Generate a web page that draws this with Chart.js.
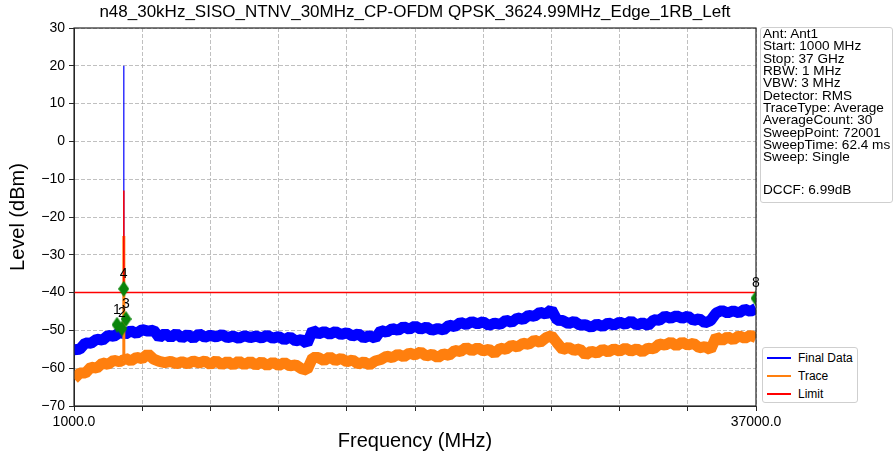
<!DOCTYPE html>
<html><head><meta charset="utf-8">
<script src="https://cdn.jsdelivr.net/npm/chart.js@4.4.1/dist/chart.umd.min.js"></script>
<style>
html,body{margin:0;padding:0;background:#fff;}
body{width:896px;height:454px;position:relative;overflow:hidden;font-family:"Liberation Sans",Arial,sans-serif;color:#000;}
#c{position:absolute;left:0;top:0;}
#title{position:absolute;left:0;top:2px;width:830px;text-align:center;font-size:17px;line-height:20px;}
#info{position:absolute;left:760px;top:27px;width:133px;height:176px;border:1px solid #cfcfcf;border-radius:3px;box-sizing:border-box;padding:0 0 0 2px;font-size:13.6px;line-height:12.34px;background:#fff;white-space:nowrap;overflow:hidden;}
#info .gap{height:20px;}
#legend{position:absolute;left:762px;top:347px;width:96px;height:56px;border:1px solid #cfcfcf;border-radius:3px;box-sizing:border-box;background:#fff;font-size:12px;}
#legend .row{position:absolute;left:0;height:14px;width:94px;}
#legend .ln{position:absolute;left:4px;top:6px;width:24px;height:2px;}
#legend .tx{position:absolute;left:35px;top:0;line-height:14px;}
</style>
</head><body>
<canvas id="c" width="896" height="454"></canvas>
<div id="title">n48_30kHz_SISO_NTNV_30MHz_CP-OFDM QPSK_3624.99MHz_Edge_1RB_Left</div>
<div id="info">
<div>Ant: Ant1</div><div>Start: 1000 MHz</div><div>Stop: 37 GHz</div><div>RBW: 1 MHz</div><div>VBW: 3 MHz</div><div>Detector: RMS</div><div>TraceType: Average</div><div>AverageCount: 30</div><div>SweepPoint: 72001</div><div>SweepTime: 62.4 ms</div><div>Sweep: Single</div><div class="gap"></div><div>DCCF: 6.99dB</div>
</div>
<div id="legend">
<div class="row" style="top:3px"><div class="ln" style="background:#0000ff"></div><div class="tx">Final Data</div></div>
<div class="row" style="top:21px"><div class="ln" style="background:#ff7f0e"></div><div class="tx">Trace</div></div>
<div class="row" style="top:39px"><div class="ln" style="background:#ff0000"></div><div class="tx">Limit</div></div>
</div>
<script>
// ---- data ----
const freqMHz = [1000,1300,1600,1900,2200,2500,2800,3100,3400,3615,3625,3635,3700,4000,4300,4600,4900,5200,5500,5800,6100,6400,6700,7000,7300,7600,7900,8200,8500,8800,9100,9400,9700,10000,10300,10600,10900,11200,11500,11800,12100,12400,12700,13000,13300,13600,13900,14200,14500,14800,15100,15400,15700,16000,16300,16600,16900,17200,17500,17800,18100,18400,18700,19000,19300,19600,19900,20200,20500,20800,21100,21400,21700,22000,22300,22600,22900,23200,23500,23800,24100,24400,24700,25000,25300,25600,25900,26200,26500,26800,27100,27400,27700,28000,28300,28600,28900,29200,29500,29800,30100,30400,30700,31000,31300,31600,31900,32200,32500,32800,33100,33400,33700,34000,34300,34600,34900,35200,35500,35800,36100,36400,36700,37000];
const finalData = [-55.1,-55.0,-53.3,-53.4,-52.3,-52.6,-51.3,-51.6,-50.6,-50.8,20.0,-50.8,
-51.0,-50.1,-50.8,-49.8,-50.2,-49.9,-51.9,-50.8,-51.9,-50.8,
-52.0,-51.1,-52.1,-50.9,-51.8,-51.3,-51.7,-51.1,-51.9,-51.5,
-52.1,-51.4,-51.9,-51.5,-52.0,-51.3,-52.1,-51.6,-52.5,-51.7,
-52.8,-52.4,-53.5,-49.9,-50.9,-50.3,-51.0,-50.3,-51.1,-50.6,
-51.5,-50.9,-52.0,-51.4,-52.1,-50.0,-50.5,-49.5,-50.0,-49.0,
-49.7,-48.8,-49.7,-49.1,-50.0,-49.5,-49.9,-48.6,-49.0,-47.9,
-48.5,-47.7,-48.3,-47.7,-48.7,-48.1,-48.4,-47.3,-47.9,-46.7,
-47.1,-46.0,-46.3,-45.2,-45.7,-44.5,-47.3,-47.4,-48.2,-47.6,
-48.6,-48.5,-49.2,-48.3,-49.0,-48.0,-48.6,-47.8,-48.4,-47.5,
-48.6,-48.0,-48.7,-47.2,-47.3,-46.2,-46.8,-46.1,-46.8,-46.2,
-47.4,-46.9,-48.0,-47.4,-45.4,-44.7,-45.4,-44.8,-45.4,-44.4,-45.0,-44.2];
const traceData = [-62.8,-61.3,-61.3,-59.7,-60.0,-58.6,-59.0,-57.9,-58.3,-57.8,-25.0,-57.8,
-57.3,-58.1,-57.1,-57.5,-56.2,-57.6,-58.2,-58.5,-58.2,-58.8,
-58.3,-58.8,-58.1,-58.6,-58.1,-59.0,-58.0,-59.1,-58.2,-59.2,
-58.1,-59.1,-58.2,-59.2,-58.3,-59.3,-58.4,-59.3,-58.5,-59.4,
-59.1,-60.1,-60.5,-57.2,-57.2,-58.0,-57.0,-58.0,-57.4,-58.3,
-57.8,-58.9,-58.3,-59.1,-58.1,-57.7,-56.8,-57.2,-56.3,-57.0,
-56.0,-56.5,-55.7,-56.8,-56.3,-57.2,-56.2,-56.6,-55.3,-55.6,
-54.5,-55.4,-54.6,-55.4,-55.0,-56.1,-54.7,-55.0,-53.9,-54.4,
-53.4,-53.7,-52.6,-53.2,-52.0,-51.4,-53.3,-55.1,-54.5,-55.3,
-54.9,-56.5,-55.5,-56.0,-55.0,-55.7,-54.9,-55.5,-54.7,-55.5,
-54.9,-55.7,-54.7,-54.9,-53.6,-53.9,-53.1,-54.1,-53.1,-53.9,
-53.4,-54.6,-54.3,-55.1,-51.7,-52.7,-51.7,-52.5,-51.4,-52.1,-51.3,-51.9];
const limitFreq = [1000,3615,3625,3635,37000];
const limitLevel = [-40,-40,-13,-40,-40];
const markerFreq = [3270,3530,3745,3625,37000];
const markerLevel = [-48.5,-49.5,-47.0,-39.0,-41.5];
const markerLabels = ['1','2','3','4','8'];
const xTickValues = [1000,4600,8200,11800,15400,19000,22600,26200,29800,33400,37000];
const xTickLabels = ['1000.0','','','','','','','','','','37000.0'];
const yTickValues = [-70,-60,-50,-40,-30,-20,-10,0,10,20,30];

if (finalData.length !== freqMHz.length || traceData.length !== freqMHz.length) {
  throw new Error('length mismatch ' + freqMHz.length + ' ' + finalData.length + ' ' + traceData.length);
}

const FONT = '"Liberation Sans", Arial, sans-serif';
const toXY = (xs, ys) => xs.map((x, i) => ({x: x, y: ys[i]}));

// diamond marker image
const dia = document.createElement('canvas');
dia.width = 11; dia.height = 16;
(function(){
  const g = dia.getContext('2d');
  g.fillStyle = '#0a850a';
  g.beginPath(); g.moveTo(5.5,0); g.lineTo(11,8); g.lineTo(5.5,16); g.lineTo(0,8); g.closePath(); g.fill();
})();

const framePlugin = {
  id: 'frame',
  afterDatasetsDraw(chart) {
    const {ctx, chartArea: a} = chart;
    ctx.save();
    ctx.strokeStyle = '#262626'; ctx.lineWidth = 1.2;
    ctx.strokeRect(a.left, a.top, a.right - a.left, a.bottom - a.top);
    const meta = chart.getDatasetMeta(3);
    ctx.fillStyle = '#000';
    ctx.font = '14px ' + FONT;
    ctx.textAlign = 'center'; ctx.textBaseline = 'middle';
    meta.data.forEach((pt, i) => ctx.fillText(markerLabels[i], pt.x, pt.y - 15));
    ctx.restore();
  }
};

const spikeW = (thin, thick) => ctx => (ctx.p0.parsed.y > -35 || ctx.p1.parsed.y > -35) ? thin : thick;

new Chart(document.getElementById('c'), {
  type: 'line',
  data: {
    datasets: [
      {label: 'Final Data', data: toXY(freqMHz, finalData), borderColor: '#0000ff', borderWidth: 11, pointRadius: 0, tension: 0, order: 4,
       borderJoinStyle: 'bevel', segment: {borderWidth: spikeW(1.2, 11)}},
      {label: 'Trace', data: toXY(freqMHz, traceData), borderColor: '#ff7f0e', borderWidth: 11, pointRadius: 0, tension: 0, order: 3,
       borderJoinStyle: 'bevel', segment: {borderWidth: spikeW(3, 11)}},
      {label: 'Limit', data: toXY(limitFreq, limitLevel), borderColor: '#ff0000', borderWidth: 1.5, pointRadius: 0, tension: 0, order: 2},
      {label: 'Markers', data: toXY(markerFreq, markerLevel), showLine: false, pointStyle: dia, pointRadius: 8, order: 1}
    ]
  },
  options: {
    responsive: false, animation: false, events: [],
    layout: {padding: {left: 0, right: 140, top: 28, bottom: 0}},
    plugins: {legend: {display: false}, tooltip: {enabled: false}, title: {display: false}},
    scales: {
      x: {
        type: 'linear', min: 1000, max: 37000,
        afterBuildTicks: s => { s.ticks = xTickValues.map(v => ({value: v})); },
        afterFit: s => { s.height = 48; },
        ticks: {callback: (v, i) => xTickLabels[i], maxRotation: 0, minRotation: 0, autoSkip: false, color: '#000', font: {size: 14, family: FONT}, padding: 3},
        grid: {color: '#b0b0b0', lineWidth: 0.8, tickLength: 5, tickColor: '#262626', tickWidth: 1, tickBorderDash: []},
        border: {display: true, color: '#262626', width: 1, dash: [4, 2]},
        title: {display: true, text: 'Frequency (MHz)', color: '#000', font: {size: 20, family: FONT, lineHeight: 1}, padding: {top: 0, bottom: 3}}
      },
      y: {
        type: 'linear', min: -70, max: 30,
        afterBuildTicks: s => { s.ticks = yTickValues.map(v => ({value: v})); },
        afterFit: s => { s.width = 74; },
        ticks: {callback: v => String(v).replace('-', '\u2212'), color: '#000', font: {size: 14, family: FONT}, padding: 4},
        grid: {color: '#b0b0b0', lineWidth: 0.8, tickLength: 5, tickColor: '#262626', tickWidth: 1, tickBorderDash: []},
        border: {display: true, color: '#262626', width: 1, dash: [4, 2]},
        title: {display: true, text: 'Level (dBm)', color: '#000', font: {size: 20, family: FONT, lineHeight: 1}, padding: {top: 8, bottom: 0}}
      }
    }
  },
  plugins: [framePlugin]
});
</script>
</body></html>
